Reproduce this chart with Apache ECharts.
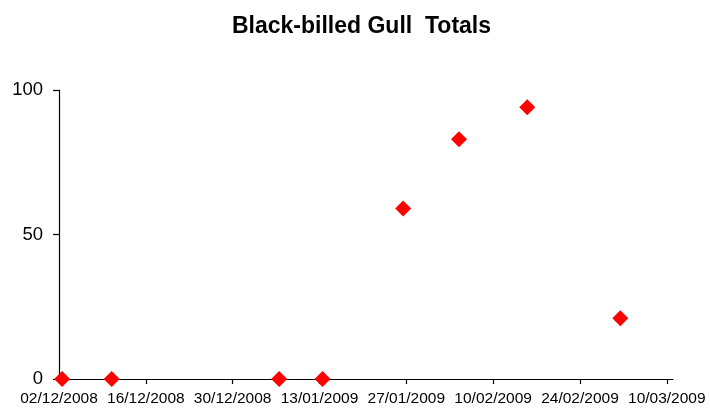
<!DOCTYPE html>
<html>
<head>
<meta charset="utf-8">
<script src="https://cdn.jsdelivr.net/npm/echarts@6/dist/echarts.min.js"></script>
<style>
  html, body { margin: 0; padding: 0; background: #fff; }
  #chart { width: 710px; height: 412px; }
</style>
</head>
<body>
<div id="chart"></div>
<script>
// Survey dates (dd/mm/yyyy) and gull counts
const surveyDates = ['02/12/2008', '10/12/2008', '06/01/2009', '13/01/2009',
                     '26/01/2009', '04/02/2009', '15/02/2009', '02/03/2009'];
const gullTotals = [0, 0, 0, 0, 59, 83, 94, 21];

// Axis range: first tick date, number of labelled days, tick step in days
const axisStartDate = '02/12/2008';
const axisSpanDays = 98;
const tickStepDays = 14;

const DAY = 86400000;
function parseDate(s) {
  const [d, m, y] = s.split('/').map(Number);
  return Date.UTC(y, m - 1, d);
}
const startMs = parseDate(axisStartDate);
function dayOffset(s) { return Math.round((parseDate(s) - startMs) / DAY); }
function pad(n) { return (n < 10 ? '0' : '') + n; }
function formatDay(offset) {
  const dt = new Date(startMs + offset * DAY);
  return pad(dt.getUTCDate()) + '/' + pad(dt.getUTCMonth() + 1) + '/' + dt.getUTCFullYear();
}

// each day occupies a one-day slot; a point sits in the middle of its day
const points = surveyDates.map((d, i) => [dayOffset(d) + 0.5, gullTotals[i]]);
const tickDays = [];
for (let t = 0; t <= axisSpanDays; t += tickStepDays) tickDays.push(t);

const chart = echarts.init(document.getElementById('chart'), null, { renderer: 'canvas' });
chart.setOption({
  animation: false,
  backgroundColor: '#ffffff',
  title: {
    text: 'Black-billed Gull  Totals',
    left: 227,
    top: 10,
    textStyle: {
      fontFamily: 'Liberation Sans, Arial, sans-serif',
      fontWeight: 'bold',
      fontSize: 23,
      color: '#000'
    }
  },
  grid: { left: 59, right: 37, top: 90, bottom: 33, containLabel: false },
  xAxis: {
    type: 'value',
    min: 0,
    max: axisSpanDays + 1,
    splitLine: { show: false },
    axisLine: { show: true, onZero: false, lineStyle: { color: '#000', width: 1.2 } },
    axisTick: { show: true, inside: false, length: 5, customValues: tickDays,
                lineStyle: { color: '#000', width: 1.2 } },
    axisLabel: {
      margin: 12,
      customValues: tickDays,
      fontFamily: 'Liberation Sans, Arial, sans-serif',
      fontSize: 15.5,
      color: '#000',
      formatter: v => formatDay(v)
    }
  },
  yAxis: {
    type: 'value',
    min: 0,
    max: 100,
    interval: 50,
    splitLine: { show: false },
    axisLine: { show: true, lineStyle: { color: '#000', width: 1.2 } },
    axisTick: { show: true, inside: false, length: 6, lineStyle: { color: '#000', width: 1.2 } },
    axisLabel: {
      margin: 16,
      fontFamily: 'Liberation Sans, Arial, sans-serif',
      fontSize: 18.5,
      color: '#000'
    }
  },
  series: [{
    type: 'scatter',
    data: points,
    symbol: 'diamond',
    symbolSize: 16,
    itemStyle: { color: '#ff0000', opacity: 1 },
    clip: false
  }]
});
</script>
</body>
</html>
